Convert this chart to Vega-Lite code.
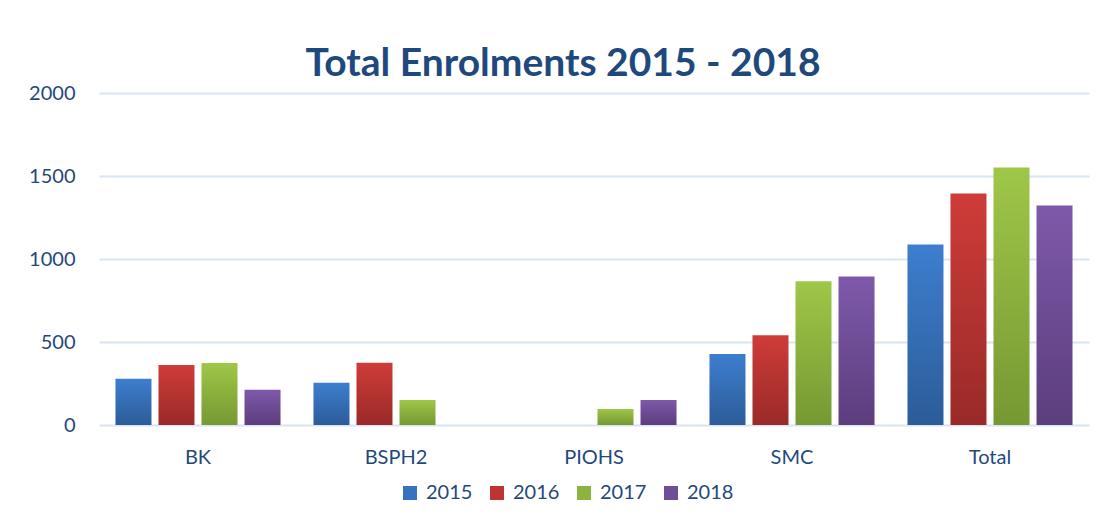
{
  "$schema": "https://vega.github.io/schema/vega-lite/v6.json",
  "width": 990,
  "height": 332,
  "autosize": {"type": "none"},
  "padding": {"left": 99, "top": 93, "right": 15, "bottom": 95},
  "background": "#ffffff",
  "title": {
    "text": "Total Enrolments 2015 - 2018",
    "font": "Lato",
    "fontSize": 39,
    "fontWeight": "bold",
    "color": "#1F497D",
    "anchor": "middle",
    "dx": -31,
    "dy": 50,
    "baseline": "alphabetic",
    "offset": 18
  },
  "data": {
    "values": [
      {"school": "BK", "year": "2015", "enrolments": 278},
      {"school": "BK", "year": "2016", "enrolments": 362},
      {"school": "BK", "year": "2017", "enrolments": 374},
      {"school": "BK", "year": "2018", "enrolments": 212},
      {"school": "BSPH2", "year": "2015", "enrolments": 254},
      {"school": "BSPH2", "year": "2016", "enrolments": 375},
      {"school": "BSPH2", "year": "2017", "enrolments": 151},
      {"school": "PIOHS", "year": "2017", "enrolments": 97},
      {"school": "PIOHS", "year": "2018", "enrolments": 151},
      {"school": "SMC", "year": "2015", "enrolments": 427},
      {"school": "SMC", "year": "2016", "enrolments": 541},
      {"school": "SMC", "year": "2017", "enrolments": 866},
      {"school": "SMC", "year": "2018", "enrolments": 895},
      {"school": "Total", "year": "2015", "enrolments": 1088},
      {"school": "Total", "year": "2016", "enrolments": 1395},
      {"school": "Total", "year": "2017", "enrolments": 1551},
      {"school": "Total", "year": "2018", "enrolments": 1322}
    ]
  },
  "encoding": {
    "x": {
      "field": "school",
      "type": "nominal",
      "sort": ["BK", "BSPH2", "PIOHS", "SMC", "Total"],
      "scale": {"paddingInner": 0.131, "paddingOuter": 0.0655},
      "axis": {
        "title": null,
        "domain": false,
        "ticks": false,
        "labelAngle": 0,
        "labelFont": "Lato",
        "labelFontSize": 20,
        "labelColor": "#1F497D",
        "labelBaseline": "alphabetic",
        "labelPadding": 38
      }
    },
    "xOffset": {
      "field": "year",
      "type": "nominal",
      "scale": {"domain": ["2015", "2016", "2017", "2018"], "paddingInner": 0.163, "paddingOuter": 0.0815}
    },
    "y": {
      "field": "enrolments",
      "type": "quantitative",
      "scale": {"domain": [0, 2000]},
      "axis": {
        "title": null,
        "values": [0, 500, 1000, 1500, 2000],
        "format": "d",
        "domain": false,
        "ticks": false,
        "labelFont": "Lato",
        "labelFontSize": 20,
        "labelColor": "#1F497D",
        "labelPadding": 24,
        "gridColor": "#D9E4F4",
        "gridWidth": 2
      }
    }
  },
  "layer": [
    {
      "mark": {"type": "bar", "opacity": 0},
      "encoding": {
        "color": {
          "field": "year",
          "type": "nominal",
          "scale": {
            "domain": ["2015", "2016", "2017", "2018"],
            "range": ["#3672BE", "#BC3532", "#8DB33F", "#6F4E98"]
          },
          "legend": {
            "title": null,
            "orient": "none",
            "legendX": 301,
            "legendY": 390,
            "direction": "horizontal",
            "symbolType": "square",
            "symbolSize": 196,
            "symbolStrokeWidth": 0,
            "symbolOpacity": 1,
            "labelFont": "Lato",
            "labelFontSize": 20,
            "labelColor": "#1F497D",
            "labelOffset": 6,
            "columnPadding": 14,
            "padding": 0
          }
        }
      }
    },
    {
      "mark": {"type": "bar"},
      "encoding": {
        "color": {
          "condition": [
            {"test": "datum.year === '2015'", "value": {"gradient": "linear", "x1": 0, "y1": 0, "x2": 0, "y2": 1, "stops": [{"offset": 0, "color": "#3D7ECF"}, {"offset": 1, "color": "#2C5C98"}]}},
            {"test": "datum.year === '2016'", "value": {"gradient": "linear", "x1": 0, "y1": 0, "x2": 0, "y2": 1, "stops": [{"offset": 0, "color": "#CF3C39"}, {"offset": 1, "color": "#992A28"}]}},
            {"test": "datum.year === '2017'", "value": {"gradient": "linear", "x1": 0, "y1": 0, "x2": 0, "y2": 1, "stops": [{"offset": 0, "color": "#9FC748"}, {"offset": 1, "color": "#769832"}]}}
          ],
          "value": {"gradient": "linear", "x1": 0, "y1": 0, "x2": 0, "y2": 1, "stops": [{"offset": 0, "color": "#7E59AA"}, {"offset": 1, "color": "#5C3D7D"}]}
        }
      }
    }
  ],
  "config": {
    "view": {"stroke": null}
  }
}
